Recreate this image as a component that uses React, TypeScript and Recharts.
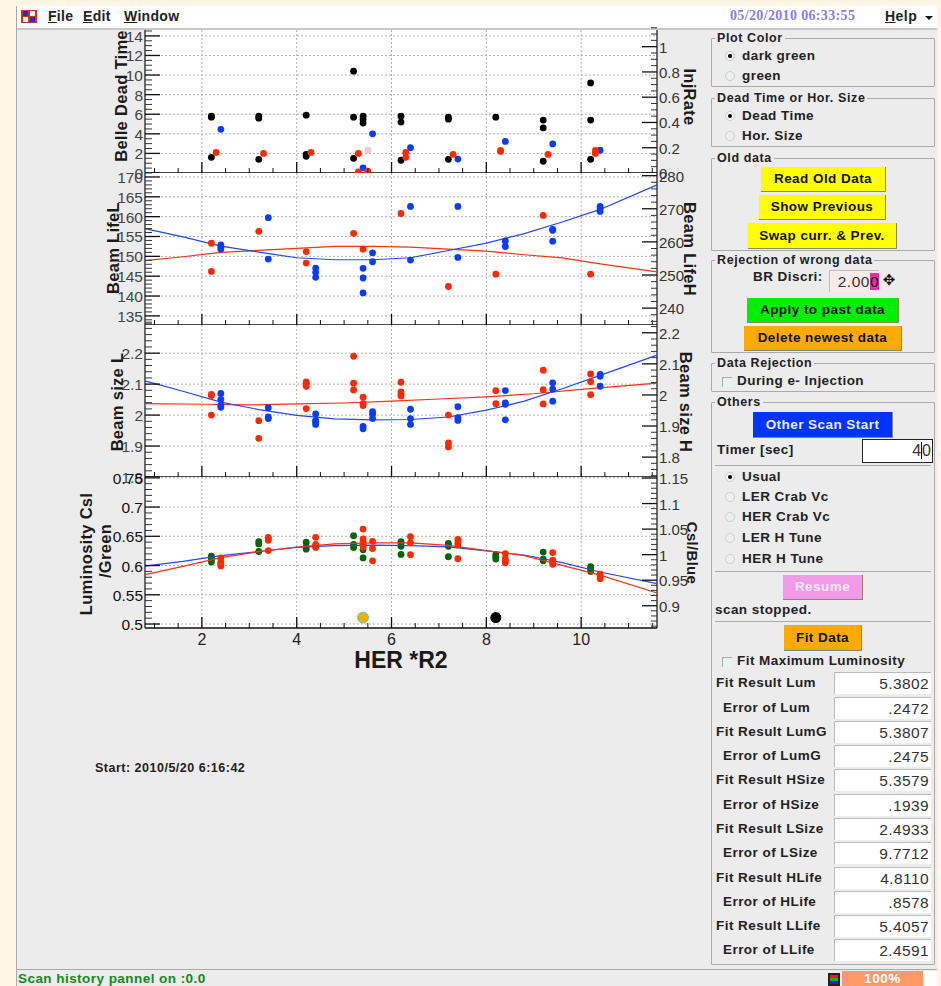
import React from 'react'
import { ScatterChart, Scatter, XAxis, YAxis, CartesianGrid } from 'recharts'

type Pair = [number, number]
const pts = (rows: Pair[]) => rows.map(([x, y]) => ({ x, y }))

// ── Dead time panel ──────────────────────────────────────────────
const deadBlack: Pair[] = [
  [2.2, 5.8], [2.2, 5.7], [2.2, 1.6], [3.2, 5.8], [3.2, 5.6], [3.2, 1.4], [4.2, 5.9], [4.2, 1.9], [4.2, 1.7],
  [5.2, 10.4], [5.2, 5.7], [5.2, 1.5], [5.4, 5.8], [5.4, 5.5], [5.4, 5.1], [6.2, 5.8], [6.2, 5.2], [6.2, 1.3],
  [7.2, 5.7], [7.2, 5.5], [7.2, 1.4], [8.2, 5.7], [9.2, 5.4], [9.2, 4.6], [9.2, 1.2], [10.2, 9.2], [10.2, 5.4], [10.2, 1.4],
]
const deadRed: Pair[] = [
  [2.3, 2.1], [3.3, 2.0], [4.3, 2.1], [5.3, 2.0], [5.3, 0.1], [5.5, 0.2], [6.3, 2.1], [6.3, 1.6], [7.3, 1.9],
  [8.3, 2.3], [8.3, 2.2], [9.3, 1.9], [10.3, 2.3], [10.3, 2.1], [10.3, 2.0],
]
const injBlue: Pair[] = [
  [2.4, 0.346], [5.4, 0.04], [5.6, 0.31], [6.4, 0.2], [7.4, 0.11], [8.4, 0.25], [9.4, 0.23], [10.4, 0.18],
]
const injPink: Pair[] = [[5.5, 0.18]]

// ── Beam life panel ──────────────────────────────────────────────
const lifeRed: Pair[] = [
  [2.2, 153.3], [2.2, 146.2], [3.2, 156.3], [4.2, 151.2], [4.2, 148.3], [5.2, 155.8], [5.4, 151.8],
  [6.2, 160.8], [7.2, 142.4], [8.2, 145.5], [9.2, 160.3], [10.2, 145.5],
]
const lifeBlue: Pair[] = [
  [2.4, 259.1], [2.4, 258.4], [2.4, 257.8], [3.4, 267.3], [3.4, 254.8], [4.4, 252.1], [4.4, 250.8], [4.4, 249.3],
  [5.4, 252], [5.4, 249.1], [5.4, 244.6], [5.6, 256.7], [5.6, 254], [6.4, 270.7], [6.4, 254.5], [7.4, 270.7], [7.4, 255.3],
  [8.4, 260.3], [8.4, 258.6], [9.4, 263.8], [9.4, 263.5], [9.4, 260.2], [10.4, 270.7], [10.4, 270], [10.4, 269.2],
]
const lifeRedFit: Pair[] = [
  [0.8, 148.9], [1.6, 149.9], [2.4, 151], [3.2, 151.5], [4, 152], [4.8, 152.5], [5.6, 152.5], [6.4, 152.3],
  [7.2, 151.8], [8, 151.3], [8.8, 150.4], [9.6, 149.6], [10.4, 148.1], [11.6, 146.1],
]
const lifeBlueFit: Pair[] = [
  [0.8, 264], [1.6, 261.5], [2.4, 258.7], [3.2, 256.9], [4, 255.2], [4.8, 254.6], [5.6, 254.6], [6.4, 255.2],
  [7.2, 257.4], [8, 259.6], [8.8, 262.5], [9.6, 266], [10.4, 269.8], [11.6, 277.2],
]

// ── Beam size panel ──────────────────────────────────────────────
const sizeRed: Pair[] = [
  [2.2, 2.067], [2.2, 2.063], [2.2, 2.0], [3.2, 1.982], [3.2, 1.925], [4.2, 2.107], [4.2, 2.102], [4.2, 2.093], [4.2, 2.021],
  [5.2, 2.19], [5.2, 2.103], [5.2, 2.081], [5.4, 2.058], [5.4, 2.037], [5.4, 2.031],
  [6.2, 2.106], [6.2, 2.075], [6.2, 2.069], [6.2, 2.062], [7.2, 2.0], [7.2, 1.91], [7.2, 1.897],
  [8.2, 2.079], [8.2, 2.037], [9.2, 2.145], [9.2, 2.082], [9.2, 2.036], [10.2, 2.133], [10.2, 2.108], [10.2, 2.066],
]
const sizeBlue: Pair[] = [
  [2.4, 2.005], [2.4, 1.986], [2.4, 1.967], [2.4, 1.96], [3.4, 1.959], [3.4, 1.929], [3.4, 1.924],
  [4.4, 1.939], [4.4, 1.918], [4.4, 1.913], [4.4, 1.905], [5.4, 1.899], [5.4, 1.891], [5.6, 1.946], [5.6, 1.938], [5.6, 1.924],
  [6.4, 1.954], [6.4, 1.924], [6.4, 1.905], [7.4, 1.962], [7.4, 1.927], [7.4, 1.918],
  [8.4, 2.014], [8.4, 1.974], [8.4, 1.97], [8.4, 1.92], [9.4, 2.039], [9.4, 2.019], [9.4, 1.98], [10.4, 2.066], [10.4, 2.06], [10.4, 2.028],
]
const sizeRedFit: Pair[] = [
  [0.8, 2.037], [2, 2.035], [3, 2.033], [4, 2.036], [5, 2.039], [6, 2.045], [7, 2.052], [8, 2.059], [9, 2.069], [10, 2.083], [11.6, 2.103],
]
const sizeBlueFit: Pair[] = [
  [0.8, 2.045], [1.6, 2.012], [2.4, 1.977], [3.2, 1.953], [4, 1.934], [4.8, 1.923], [5.6, 1.92], [6.4, 1.921],
  [7.2, 1.929], [8, 1.951], [8.8, 1.98], [9.6, 2.02], [10.4, 2.063], [11.6, 2.128],
]

// ── Luminosity panel ─────────────────────────────────────────────
const lumGreen: Pair[] = [
  [2.2, 0.616], [2.2, 0.613], [2.2, 0.61], [2.2, 0.606], [3.2, 0.641], [3.2, 0.637], [3.2, 0.624],
  [4.2, 0.64], [4.2, 0.632], [4.2, 0.628], [5.2, 0.651], [5.2, 0.636], [5.2, 0.631], [5.4, 0.627], [5.4, 0.613],
  [6.2, 0.641], [6.2, 0.638], [6.2, 0.633], [6.2, 0.619], [7.2, 0.638], [7.2, 0.633], [7.2, 0.615],
  [8.2, 0.619], [8.2, 0.615], [8.2, 0.611], [9.2, 0.623], [9.2, 0.611], [9.2, 0.608], [10.2, 0.598], [10.2, 0.594], [10.2, 0.59],
]
const lumRed: Pair[] = [
  [2.4, 0.9935], [2.4, 0.986], [2.4, 0.982], [2.4, 0.978], [3.4, 1.034], [3.4, 1.032], [3.4, 1.028], [3.4, 1.008],
  [4.4, 1.034], [4.4, 1.02], [4.4, 1.016], [4.4, 1.014], [5.4, 1.05], [5.4, 1.031], [5.4, 1.025], [5.4, 1.02], [5.4, 1.015],
  [5.6, 1.026], [5.6, 1.012], [5.6, 0.988], [6.4, 1.035], [6.4, 1.023], [6.4, 1.0], [7.4, 1.03], [7.4, 1.024], [7.4, 1.019], [7.4, 0.992],
  [8.4, 1.002], [8.4, 0.992], [8.4, 0.988], [8.4, 0.984], [9.4, 1.004], [9.4, 0.989], [9.4, 0.985], [9.4, 0.981],
  [10.4, 0.962], [10.4, 0.958], [10.4, 0.953],
]
const lumBlueFit: Pair[] = [
  [0.8, 0.599], [1.6, 0.607], [2.4, 0.617], [3.2, 0.624], [4, 0.631], [4.8, 0.634], [5.6, 0.635], [6.4, 0.634],
  [7.2, 0.632], [8, 0.625], [8.8, 0.618], [9.6, 0.605], [10.4, 0.589], [11.6, 0.569],
]
const lumRedFit: Pair[] = [
  [0.8, 0.961], [1.6, 0.977], [2.4, 0.994], [3.2, 1.006], [4, 1.015], [4.8, 1.021], [5.6, 1.023], [6.4, 1.023],
  [7.2, 1.018], [8, 1.008], [8.8, 0.998], [9.6, 0.979], [10.4, 0.96], [11.6, 0.925],
]
const peakOrange: Pair[] = [[5.4, 0.511]]
const peakBlack: Pair[] = [[8.2, 0.511]]

// ── Axis ticks ───────────────────────────────────────────────────
const xMajor = [2, 4, 6, 8, 10]
const xMinor = [1, 1.5, 2.5, 3, 3.5, 4.5, 5, 5.5, 6.5, 7, 7.5, 8.5, 9, 9.5, 10.5, 11, 11.5]
const d1Left = [0, 2, 4, 6, 8, 10, 12, 14]
const d1Right = [0, 0.2, 0.4, 0.6, 0.8, 1]
const d2Left = [135, 140, 145, 150, 155, 160, 165, 170]
const d2Right = [240, 250, 260, 270, 280]
const d3Left = [1.8, 1.9, 2, 2.1, 2.2]
const d3Right = [1.8, 1.9, 2, 2.1, 2.2]
const d4Left = [0.5, 0.55, 0.6, 0.65, 0.7, 0.75]
const d4Right = [0.9, 0.95, 1, 1.05, 1.1, 1.15]

const minors = (from: number, to: number, step: number, major: number[]) => {
  const out: number[] = []
  const n = Math.round((to - from) / step)
  for (let i = 0; i <= n; i++) {
    const v = +(from + i * step).toFixed(4)
    if (!major.includes(v)) out.push(v)
  }
  return out
}

const FONT = '"Liberation Sans", Arial, sans-serif'
const RED = '#ff2a00'
const BLUE = '#0a3cff'
const GREEN = '#006600'
const INK = '#222'

const CHART_LEFT = 90
const CHART_W = 620
const M_LEFT = 55
const M_RIGHT = 53
const PAD = 14

const Dot = (fill: string, r = 3.4, edge?: string) => (p: any) =>
  <circle cx={p.cx} cy={p.cy} r={r} fill={fill} stroke={edge ?? 'none'} strokeWidth={edge ? 1 : 0} />
const NoDot = () => <g />

function LeftTick(p: any, major: number[], ink: string) {
  const v = p.payload.value
  const isMajor = major.includes(v)
  return (
    <g>
      <line x1={p.x} x2={p.x + (isMajor ? 15 : 7)} y1={p.y} y2={p.y} stroke={isMajor ? '#111' : '#333'} strokeWidth={isMajor ? 1.3 : 1} />
      {isMajor && <text x={p.x - 2} y={p.y + 6} textAnchor="end" fontSize={15.5} fontFamily={FONT} fill={ink}>{v}</text>}
    </g>
  )
}

function RightTick(p: any, major: number[]) {
  const v = p.payload.value
  const isMajor = major.includes(v)
  return (
    <g>
      <line x1={p.x} x2={p.x - (isMajor ? 15 : 6)} y1={p.y} y2={p.y} stroke={isMajor ? '#111' : '#333'} strokeWidth={isMajor ? 1.3 : 1} />
      {isMajor && <text x={p.x + 2} y={p.y + 6} fontSize={15} fontFamily={FONT} fill="#333">{v}</text>}
    </g>
  )
}

function BottomTick(p: any, showLabel: boolean) {
  const v = p.payload.value
  const isMajor = xMajor.includes(v)
  return (
    <g>
      <line x1={p.x} x2={p.x} y1={p.y} y2={p.y - (isMajor ? 11 : 5)} stroke="#111" strokeWidth={isMajor ? 1.3 : 1} />
      {showLabel && isMajor && <text x={p.x} y={p.y + 17} textAnchor="middle" fontSize={16} fontFamily={FONT} fill={INK}>{v}</text>}
    </g>
  )
}

type Series = { rows: Pair[]; axis: 'l' | 'r'; fill?: string; line?: string; r?: number; edge?: string }

function Panel(props: {
  top: number; bottom: number
  left: number[]; right: number[]
  leftMinor: number; rightMinor: number
  leftDomain: [number, number]; rightDomain: [number, number]
  leftStart: number; rightStart: number
  series: Series[]
  ink?: string
  last?: boolean
}) {
  const { top, bottom, left, right, leftDomain, rightDomain } = props
  const foot = props.last ? 40 : PAD
  const h = bottom - top + PAD + foot
  const leftTicks = [...left, ...minors(props.leftStart, leftDomain[1], props.leftMinor, left)]
  const rightTicks = [...right, ...minors(props.rightStart, rightDomain[1], props.rightMinor, right)]
  return (
    <div style={{ position: 'absolute', left: CHART_LEFT, top: top - PAD }}>
      <ScatterChart width={CHART_W} height={h} margin={{ top: PAD, bottom: 0, left: 0, right: 0 }}>
        <CartesianGrid
          xAxisId="x" yAxisId="l" fill="#fff" stroke="#b0b0b0" strokeDasharray="2 2"
          horizontalValues={left} verticalValues={xMajor}
        />
        <XAxis
          xAxisId="x" type="number" dataKey="x" domain={[0.8, 11.6]} ticks={[...xMajor, ...xMinor]} interval={0} height={foot}
          tickSize={0} tickMargin={0} tickLine={false} axisLine={{ stroke: '#111', strokeWidth: 1.4 }}
          tick={(p: any) => BottomTick(p, !!props.last)}
        />
        <YAxis
          yAxisId="l" type="number" dataKey="y" orientation="left" width={M_LEFT} domain={leftDomain} ticks={leftTicks} interval={0}
          tickSize={0} tickMargin={0} tickLine={false} axisLine={{ stroke: '#111', strokeWidth: 1.2 }}
          tick={(p: any) => LeftTick(p, left, props.ink ?? '#444')}
        />
        <YAxis
          yAxisId="r" type="number" dataKey="y" orientation="right" width={M_RIGHT} domain={rightDomain} ticks={rightTicks} interval={0}
          tickSize={0} tickMargin={0} tickLine={false} axisLine={{ stroke: '#111', strokeWidth: 1.2 }}
          tick={(p: any) => RightTick(p, right)}
        />
        {props.series.map((s, i) =>
          s.line ? (
            <Scatter key={i} xAxisId="x" yAxisId={s.axis} data={pts(s.rows)} isAnimationActive={false}
              line={{ stroke: s.line, strokeWidth: 1.2 }} lineType="joint" shape={NoDot} />
          ) : (
            <Scatter key={i} xAxisId="x" yAxisId={s.axis} data={pts(s.rows)} isAnimationActive={false}
              shape={Dot(s.fill as string, s.r, s.edge)} />
          ),
        )}
      </ScatterChart>
    </div>
  )
}

// ── Plain widgets around the plot ────────────────────────────────
const at = (l: number, t: number, w?: number, h?: number): React.CSSProperties =>
  ({ position: 'absolute', left: l, top: t, width: w, height: h })

const Txt = ({ x, y, children, size = 13.5, color = INK, weight = 700, spacing = 0.45 }: any) => (
  <div style={{ ...at(x, y - 9, undefined, 18), lineHeight: '18px', fontSize: size, color, fontWeight: weight, letterSpacing: spacing, whiteSpace: 'nowrap' }}>
    {children}
  </div>
)

const Vert = ({ x, y, text, size = 16.5, cw = false }: any) => (
  <div style={{
    position: 'absolute', left: x, top: y, fontSize: size, fontWeight: 700, color: '#1a1a1a', whiteSpace: 'nowrap',
    transform: `translate(-50%,-50%) rotate(${cw ? 90 : -90}deg)`, letterSpacing: 0.3,
  }}>{text}</div>
)

const Group = ({ title, top, bottom }: any) => (
  <>
    <div style={{ ...at(711, top, 224, bottom - top), boxSizing: 'border-box', border: '1px solid #aaa', borderRadius: 1 }} />
    <div style={{ ...at(715, top - 8, undefined, 16), lineHeight: '16px', background: '#ececec', padding: '0 2px', fontSize: 12.5, fontWeight: 700, letterSpacing: 0.6, color: INK, whiteSpace: 'nowrap' }}>{title}</div>
  </>
)

const Btn = ({ l, r, t, b, bg, color = '#111', children }: any) => (
  <div style={{
    ...at(l, t, r - l, b - t), boxSizing: 'border-box', background: bg, color, borderBottom: '1px solid #8a8a60', borderRight: '1px solid #8a8a60',
    textAlign: 'center', lineHeight: `${b - t - 1}px`, fontSize: 13.5, fontWeight: 700, letterSpacing: 0.45, whiteSpace: 'nowrap',
  }}>{children}</div>
)

const Radio = ({ y, on, label }: any) => (
  <>
    <div style={{ ...at(725, y - 5, 10, 10), boxSizing: 'border-box', borderRadius: '50%', background: on ? '#f4f4f4' : '#e8f2f0', border: '1px solid #ccc' }} />
    {on && <div style={{ ...at(728, y - 2, 4, 4), borderRadius: '50%', background: '#000' }} />}
    <Txt x={742} y={y}>{label}</Txt>
  </>
)

const Check = ({ y, label }: any) => (
  <>
    <div style={{ ...at(722, y - 4, 10, 10), boxSizing: 'border-box', background: '#e8f2f0', borderTop: '1px solid #aaa', borderLeft: '1px solid #aaa' }} />
    <Txt x={737} y={y}>{label}</Txt>
  </>
)

const Sep = ({ y }: any) => <div style={{ ...at(715, y, 216, 1), background: '#aaa' }} />

const fitRows: [string, string, number][] = [
  ['Fit Result Lum', '5.3802', 683], ['Error of Lum', '.2472', 708],
  ['Fit Result LumG', '5.3807', 732], ['Error of LumG', '.2475', 756],
  ['Fit Result HSize', '5.3579', 780], ['Error of HSize', '.1939', 805],
  ['Fit Result LSize', '2.4933', 829], ['Error of LSize', '9.7712', 853],
  ['Fit Result HLife', '4.8110', 878], ['Error of HLife', '.8578', 902],
  ['Fit Result LLife', '5.4057', 926], ['Error of LLife', '2.4591', 950],
]

const menuItems: [string, string, number][] = [['F', 'ile', 48], ['E', 'dit', 83], ['W', 'indow', 124]]

export default function App() {
  return (
    <div style={{ position: 'absolute', left: 0, top: 0, width: 941, height: 986, overflow: 'hidden', background: '#fef5e2', fontFamily: FONT }}>
      {/* window body */}
      <div style={{ ...at(16, 6, 921, 980), background: '#ececec', borderLeft: '1px solid #aaa', boxSizing: 'border-box' }} />
      <div style={{ ...at(17, 6, 920, 22), background: '#fff', borderBottom: '2px solid #c8c8c8' }} />

      {/* menu bar */}
      <div style={{ ...at(21, 10, 16, 13), background: '#c43a20' }}>
        <div style={{ ...at(2, 1, 5, 5), background: '#2a2ad0' }} />
        <div style={{ ...at(9, 1, 5, 5), background: '#eef' }} />
        <div style={{ ...at(2, 7, 5, 5), background: '#eef' }} />
        <div style={{ ...at(9, 7, 5, 5), background: '#2a2ad0' }} />
      </div>
      {menuItems.map(([u, rest, x]) => (
        <Txt key={x} x={x} y={16} size={14} spacing={0.3}><u>{u}</u>{rest}</Txt>
      ))}
      <div style={{ ...at(730, 7, undefined, 18), lineHeight: '18px', fontFamily: '"Liberation Serif", serif', fontWeight: 700, fontSize: 14, color: '#8a80d8', letterSpacing: 0.35, whiteSpace: 'nowrap' }}>
        05/20/2010 06:33:55
      </div>
      <Txt x={885} y={16} size={14}><u>H</u>elp</Txt>
      <div style={{ ...at(925, 16, 0, 0), borderLeft: '4px solid transparent', borderRight: '4px solid transparent', borderTop: '4px solid #111' }} />

      {/* plot panels */}
      <div style={{ ...at(145, 30, 512, 1), background: '#777' }} />
      <Panel
        top={30} bottom={173} left={d1Left} right={d1Right} leftMinor={0.5} rightMinor={0.05}
        leftStart={0} rightStart={0} leftDomain={[0, 14.6]} rightDomain={[0, 1.132]}
        series={[
          { rows: deadBlack, axis: 'l', fill: '#000' },
          { rows: injBlue, axis: 'r', fill: BLUE },
          { rows: deadRed, axis: 'l', fill: RED },
          { rows: injPink, axis: 'r', fill: '#f8c8d0' },
        ]}
      />
      <Panel
        top={173} bottom={325} left={d2Left} right={d2Right} leftMinor={1} rightMinor={2}
        leftStart={133} rightStart={236} leftDomain={[132.7, 171]} rightDomain={[234.9, 280.8]}
        series={[
          { rows: lifeRedFit, axis: 'l', line: '#ff3010' },
          { rows: lifeBlueFit, axis: 'r', line: '#2048ff' },
          { rows: lifeRed, axis: 'l', fill: RED },
          { rows: lifeBlue, axis: 'r', fill: BLUE },
        ]}
      />
      <Panel
        top={325} bottom={477} left={d3Left} right={d3Right} leftMinor={0.02} rightMinor={0.02}
        leftStart={1.8} rightStart={1.74} leftDomain={[1.8, 2.291]} rightDomain={[1.736, 2.225]}
        series={[
          { rows: sizeRedFit, axis: 'l', line: '#ff3010' },
          { rows: sizeBlueFit, axis: 'r', line: '#2048ff' },
          { rows: sizeRed, axis: 'l', fill: RED },
          { rows: sizeBlue, axis: 'r', fill: BLUE },
        ]}
      />
      <Panel
        top={477} bottom={628} last ink="#111" left={d4Left} right={d4Right} leftMinor={0.01} rightMinor={0.01}
        leftStart={0.5} rightStart={0.86} leftDomain={[0.4932, 0.7514]} rightDomain={[0.8564, 1.152]}
        series={[
          { rows: lumGreen, axis: 'l', fill: GREEN },
          { rows: lumBlueFit, axis: 'l', line: '#2048ff' },
          { rows: lumRedFit, axis: 'r', line: '#ff3010' },
          { rows: lumRed, axis: 'r', fill: RED },
          { rows: peakOrange, axis: 'l', fill: '#ffaa00', r: 5.5, edge: '#40d8d8' },
          { rows: peakBlack, axis: 'l', fill: '#000', r: 5.5 },
        ]}
      />

      {/* axis titles */}
      <Vert x={121} y={96} text="Belle Dead Time" />
      <Vert x={113} y={248} text="Beam LifeL" />
      <Vert x={117} y={402} text="Beam size L" />
      <Vert x={86} y={554} text="Luminosity Csl" />
      <Vert x={105} y={551} text="/Green" />
      <Vert x={689} y={97} text="InjRate" cw />
      <Vert x={689} y={249} text="Beam LifeH" cw />
      <Vert x={685} y={402} text="Beam size H" cw />
      <Vert x={692} y={553} text="Csl/Blue" cw size={15} />
      <div style={{ ...at(251, 646, 300, 28), textAlign: 'center', lineHeight: '28px', fontSize: 23, fontWeight: 700, color: '#1a1a1a' }}>HER *R2</div>
      <Txt x={95} y={768} size={12.5} spacing={0.5}>Start: 2010/5/20 6:16:42</Txt>

      {/* right column */}
      <Group title="Plot Color" top={38} bottom={87} />
      <Radio y={56} on label="dark green" />
      <Radio y={76} label="green" />
      <Group title="Dead Time or Hor. Size" top={98} bottom={147} />
      <Radio y={116} on label="Dead Time" />
      <Radio y={136} label="Hor. Size" />
      <Group title="Old data" top={158} bottom={251} />
      <Btn l={761} r={886} t={167} b={192} bg="#ffff00">Read Old Data</Btn>
      <Btn l={759} r={886} t={195} b={220} bg="#ffff00">Show Previous</Btn>
      <Btn l={748} r={897} t={223} b={249} bg="#ffff00">Swap curr. &amp; Prev.</Btn>
      <Group title="Rejection of wrong data" top={260} bottom={353} />
      <Txt x={753} y={277}>BR Discri:</Txt>
      <div style={{ ...at(829, 270, 50, 22), background: '#fdeaea', borderTop: '1px solid #bbb', borderLeft: '1px solid #bbb', textAlign: 'right', lineHeight: '22px', fontSize: 15.5, color: '#333', boxSizing: 'border-box', letterSpacing: 0.5 }}>
        2.00<span style={{ background: '#ee2e9c', color: '#111' }}>0</span>
      </div>
      <div style={{ ...at(880, 270, 18, 22), fontFamily: '"DejaVu Sans"', fontSize: 15, lineHeight: '20px', textAlign: 'center', color: '#111' }}>✥</div>
      <Btn l={747} r={899} t={298} b={323} bg="#00ee00">Apply to past data</Btn>
      <Btn l={744} r={902} t={326} b={351} bg="#ffaa00">Delete newest data</Btn>
      <Group title="Data Rejection" top={363} bottom={392} />
      <Check y={381} label="During e- Injection" />

      <Group title="Others" top={402} bottom={965} />
      <Btn l={753} r={893} t={412} b={438} bg="#0033ff" color="#e8f0ff">Other Scan Start</Btn>
      <Txt x={717} y={450}>Timer [sec]</Txt>
      <div style={{ ...at(862, 439, 71, 24), boxSizing: 'border-box', background: '#fff', border: '1.5px solid #222', textAlign: 'right', paddingRight: 1, lineHeight: '21px', fontSize: 16, color: '#333' }}>
        4<span style={{ borderLeft: '1px solid #000' }}>0</span>
      </div>
      <Sep y={465} />
      <Radio y={477} on label="Usual" />
      <Radio y={497} label="LER Crab Vc" />
      <Radio y={517} label="HER Crab Vc" />
      <Radio y={538} label="LER H Tune" />
      <Radio y={559} label="HER H Tune" />
      <Sep y={571} />
      <Btn l={783} r={863} t={575} b={600} bg="#f19be8" color="#fde8fa">Resume</Btn>
      <Txt x={715} y={610}>scan stopped.</Txt>
      <Sep y={621} />
      <Btn l={784} r={862} t={625} b={651} bg="#ffaa00">Fit Data</Btn>
      <Check y={661} label="Fit Maximum Luminosity" />
      {fitRows.map(([label, value, y]) => (
        <React.Fragment key={label}>
          <Txt x={label.startsWith('Fit') ? 716 : 723} y={y}>{label}</Txt>
          <div style={{ ...at(834, y - 11, 97, 22), boxSizing: 'border-box', background: '#fff', borderTop: '1px solid #bbb', borderLeft: '1px solid #bbb', textAlign: 'right', paddingRight: 2, lineHeight: '22px', fontSize: 15.5, letterSpacing: 0.4, color: '#333' }}>
            {value}
          </div>
        </React.Fragment>
      ))}

      {/* status bar */}
      <div style={{ ...at(17, 969, 920, 1), background: '#aaa' }} />
      <Txt x={18} y={979} size={13.5} color="#118a22">Scan history pannel on :0.0</Txt>
      <div style={{ ...at(828, 973, 12, 13), background: '#222' }}>
        <div style={{ ...at(2, 2, 8, 3), background: '#d22' }} />
        <div style={{ ...at(2, 5, 8, 3), background: '#2a2' }} />
        <div style={{ ...at(2, 8, 8, 3), background: '#22d' }} />
      </div>
      <div style={{ ...at(842, 971, 81, 15), background: '#ff9966', color: '#fff', textAlign: 'center', lineHeight: '15px', fontSize: 13.5, fontWeight: 700, letterSpacing: 0.6 }}>100%</div>
      <div style={{ ...at(923, 971, 14, 15), background: '#fff' }} />
    </div>
  )
}
